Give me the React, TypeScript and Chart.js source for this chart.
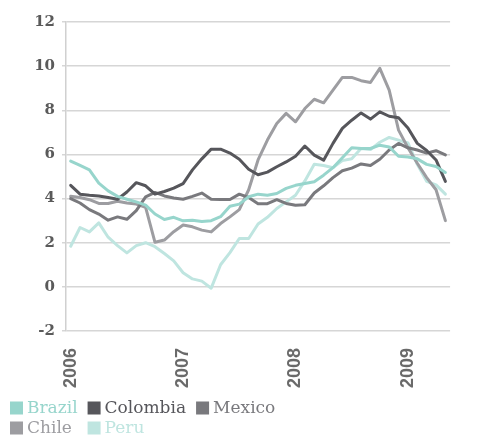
import React, { useEffect, useRef } from 'react';
import { Chart, registerables } from 'chart.js';

Chart.register(...registerables);

const MONTHS = [
  '2006-01', '2006-02', '2006-03', '2006-04', '2006-05', '2006-06', '2006-07', '2006-08', '2006-09', '2006-10', '2006-11', '2006-12',
  '2007-01', '2007-02', '2007-03', '2007-04', '2007-05', '2007-06', '2007-07', '2007-08', '2007-09', '2007-10', '2007-11', '2007-12',
  '2008-01', '2008-02', '2008-03', '2008-04', '2008-05', '2008-06', '2008-07', '2008-08', '2008-09', '2008-10', '2008-11', '2008-12',
  '2009-01', '2009-02', '2009-03', '2009-04', '2009-05',
];

const YEAR_LABELS = ['2006', '2007', '2008', '2009'];

const BRAZIL = [
  5.7, 5.5, 5.3, 4.7, 4.35, 4.1, 3.97, 3.85, 3.7, 3.3,
  3.05, 3.15, 2.99, 3.02, 2.96, 3.0, 3.18, 3.65, 3.75, 4.08,
  4.2, 4.15, 4.23, 4.46, 4.6, 4.68, 4.76, 5.06, 5.4, 5.85,
  6.3, 6.27, 6.27, 6.42, 6.34, 5.92, 5.88, 5.8, 5.55, 5.45,
  5.18,
];

const COLOMBIA = [
  4.6, 4.2, 4.15, 4.12, 4.05, 3.97, 4.3, 4.72, 4.58, 4.2,
  4.32, 4.47, 4.68, 5.3, 5.8, 6.24, 6.24, 6.06, 5.78, 5.33,
  5.08, 5.2, 5.44, 5.66, 5.92, 6.38, 5.97, 5.74, 6.5, 7.18,
  7.55, 7.88, 7.6, 7.93, 7.73, 7.66, 7.2, 6.5, 6.18, 5.75,
  4.78,
];

const MEXICO = [
  4.0, 3.8, 3.5, 3.3, 3.02, 3.17, 3.06, 3.45, 4.08, 4.28,
  4.12, 4.03, 3.97, 4.1, 4.25, 3.97, 3.96, 3.96, 4.2, 4.05,
  3.77, 3.77, 3.95, 3.78, 3.7, 3.72, 4.25, 4.58, 4.95, 5.26,
  5.38, 5.57, 5.5, 5.78, 6.2, 6.5, 6.3, 6.2, 6.06, 6.17,
  5.98,
];

const CHILE = [
  4.1, 4.05, 3.95, 3.78, 3.78, 3.88, 3.8, 3.75, 3.6, 2.02,
  2.12, 2.5, 2.8, 2.72, 2.57, 2.49, 2.87, 3.17, 3.5, 4.4,
  5.75, 6.65, 7.4, 7.86, 7.48, 8.08, 8.5, 8.34, 8.91, 9.49,
  9.49, 9.34, 9.26, 9.9, 8.91, 7.1, 6.3, 5.6, 4.95, 4.4,
  3.0,
];

const PERU = [
  1.84, 2.69, 2.49, 2.9, 2.25, 1.87, 1.54, 1.87, 2.0, 1.82,
  1.51, 1.18, 0.64, 0.36, 0.26, -0.06, 1.0, 1.55, 2.19, 2.19,
  2.85, 3.15, 3.55, 3.85, 4.15, 4.8, 5.55, 5.5, 5.4, 5.72,
  5.8, 6.27, 6.22, 6.55, 6.77, 6.65, 6.52, 5.55, 4.78, 4.62,
  4.2,
];

const SERIES_NAMES = ['Brazil', 'Colombia', 'Mexico', 'Chile', 'Peru'];
const SERIES_VALUES = [BRAZIL, COLOMBIA, MEXICO, CHILE, PERU];
const SERIES_COLORS = ['#97d5cc', '#56565b', '#79797d', '#9d9da1', '#bfe5e0'];

const Y_MIN = -2;
const Y_MAX = 12;
const Y_STEP = 2;

const gridLegend = {
  id: 'gridLegend',
  afterDraw(chart: any) {
    const ctx = chart.ctx;
    const datasets = chart.data.datasets;
    const perRow = 3;
    const box = 13;
    const boxGap = 4;
    const itemGap = 10;
    const lineH = 20;
    ctx.save();
    ctx.font = '17px "DejaVu Serif"';
    ctx.textBaseline = 'middle';
    ctx.textAlign = 'left';
    const colW: number[] = [];
    datasets.forEach((d: any, i: number) => {
      const c = i % perRow;
      const w = box + boxGap + ctx.measureText(d.label).width;
      colW[c] = Math.max(colW[c] || 0, w);
    });
    const left = 10;
    const top = chart.chartArea.bottom + 77;
    datasets.forEach((d: any, i: number) => {
      const r = Math.floor(i / perRow);
      const c = i % perRow;
      let x = left;
      for (let k = 0; k < c; k++) x += colW[k] + itemGap;
      const y = top + r * lineH;
      ctx.fillStyle = d.borderColor;
      ctx.fillRect(x, y - box / 2, box, box);
      ctx.fillText(d.label, x + box + boxGap, y + 1);
    });
    ctx.restore();
  },
};

export default function App() {
  const ref = useRef<HTMLCanvasElement>(null);

  useEffect(() => {
    if (!ref.current) return;
    const chart = new Chart(ref.current, {
      type: 'line',
      data: {
        labels: MONTHS,
        datasets: SERIES_NAMES.map((name, i) => ({
          label: name,
          data: SERIES_VALUES[i],
          borderColor: SERIES_COLORS[i],
          backgroundColor: SERIES_COLORS[i],
          borderWidth: 3,
          pointRadius: 0,
          tension: 0,
          borderJoinStyle: 'round' as const,
          borderCapStyle: 'round' as const,
          fill: false,
        })),
      },
      options: {
        animation: false,
        responsive: false,
        layout: { padding: { top: 22, left: 0, right: 0, bottom: 52 } },
        plugins: {
          legend: { display: false },
          tooltip: { enabled: false },
        },
        scales: {
          x: {
            type: 'category',
            offset: true,
            grid: { display: false, drawTicks: false },
            border: { display: false },
            ticks: {
              autoSkip: false,
              maxRotation: 90,
              minRotation: 90,
              padding: 17,
              color: '#6a6a6a',
              font: { family: '"Liberation Sans", Arial, sans-serif', size: 18, weight: 'bold' },
              callback: (_v: any, index: number) => {
                const m = MONTHS[index];
                const y = m.slice(0, 4);
                return m.endsWith('-01') && YEAR_LABELS.includes(y) ? y : '';
              },
            },
            afterFit: (s: any) => {
              s.height = 60;
            },
          },
          y: {
            min: Y_MIN,
            max: Y_MAX,
            ticks: {
              stepSize: Y_STEP,
              padding: 7,
              color: '#5a5a5a',
              font: { family: '"DejaVu Serif", serif', size: 15, weight: 'bold' },
            },
            grid: { color: '#d6d6d6', lineWidth: 1.5, tickLength: 4, drawTicks: true },
            border: { display: true, color: '#d0d0d0', width: 1.5 },
            afterFit: (s: any) => {
              s.width = 66;
            },
          },
        },
      },
      plugins: [gridLegend],
    });
    return () => chart.destroy();
  }, []);

  return (
    <div style={{ margin: '-8px', width: 482, height: 443, overflow: 'hidden' }}>
      <canvas ref={ref} width={484} height={443} style={{ display: 'block' }} />
    </div>
  );
}
